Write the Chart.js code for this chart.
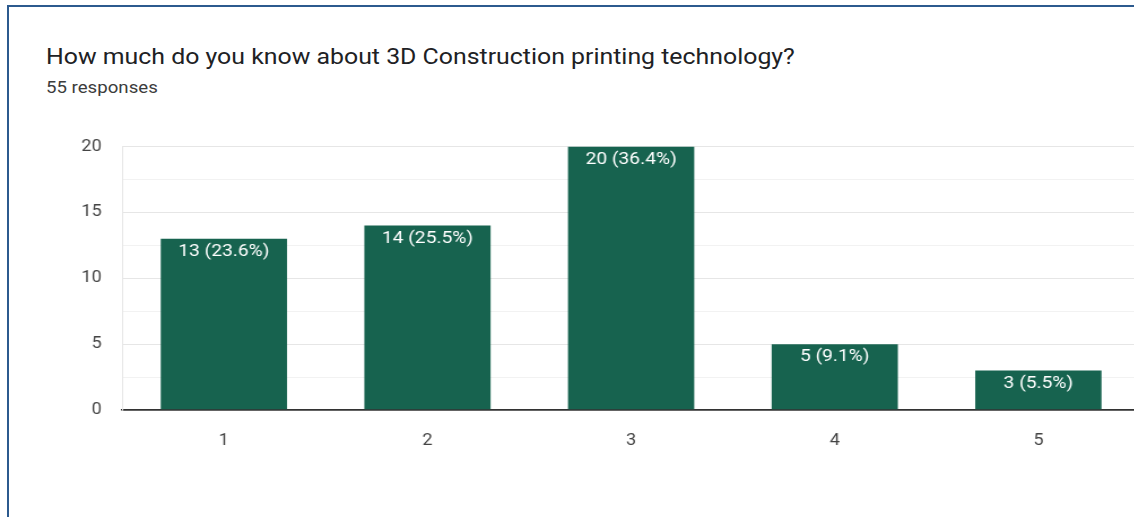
<!DOCTYPE html>
<html lang="en">
<head>
<meta charset="UTF-8">
<title>3D Construction printing survey</title>
<script src="https://cdn.jsdelivr.net/npm/chart.js"></script>
<style>
  html, body { margin: 0; padding: 0; background: #fff; overflow: hidden; }
  body { width: 1134px; height: 517px; position: relative; font-family: Roboto, Arial, sans-serif; }
  .card {
    position: absolute; left: 7px; top: 5px; width: 1200px; height: 600px;
    border-left: 2px solid #2c5a8e; border-top: 2px solid #2c5a8e;
  }
  /* the survey export is slightly wider than tall, so text and chart get a horizontal stretch */
  .wide { transform: scaleX(1.13); transform-origin: 0 0; }
  .title { position: absolute; left: 46px; top: 44px; font-size: 22px; color: #202124; white-space: nowrap; }
  .sub { position: absolute; left: 46px; top: 78px; font-size: 16.5px; color: #3c3c3c; white-space: nowrap; }
  #wrap { position: absolute; left: 0; top: 119px; width: 1018px; height: 398px; }
</style>
</head>
<body>
<div class="card"></div>
<div class="title wide">How much do you know about 3D Construction printing technology?</div>
<div class="sub wide">55 responses</div>
<div id="wrap" class="wide"><canvas id="chart"></canvas></div>
<script>
  const categories = ['1', '2', '3', '4', '5'];
  const counts = [13, 14, 20, 5, 3];
  const percents = ['23.6%', '25.5%', '36.4%', '9.1%', '5.5%'];
  const yTicks = [0, 5, 10, 15, 20];

  const FONT = 'Roboto, Arial, sans-serif';

  // white "n (p%)" label just inside the top of each bar
  const barLabels = {
    id: 'barLabels',
    afterDatasetsDraw(chart) {
      const ctx = chart.ctx;
      const meta = chart.getDatasetMeta(0);
      ctx.save();
      ctx.fillStyle = '#ffffff';
      ctx.font = '17px ' + FONT;
      ctx.textAlign = 'center';
      ctx.textBaseline = 'middle';
      meta.data.forEach((bar, i) => {
        ctx.fillText(counts[i] + ' (' + percents[i] + ')', bar.x, bar.y + 13);
      });
      ctx.restore();
    }
  };

  new Chart(document.getElementById('chart'), {
    type: 'bar',
    data: {
      labels: categories,
      datasets: [{
        data: counts,
        backgroundColor: '#17634f',
        borderWidth: 0,
        barPercentage: 0.62,
        categoryPercentage: 1
      }]
    },
    options: {
      responsive: true,
      maintainAspectRatio: false,
      animation: false,
      events: [],
      layout: { padding: { top: 4, right: 9, left: 0, bottom: 0 } },
      plugins: { legend: { display: false }, tooltip: { enabled: false } },
      scales: {
        x: {
          grid: { display: false },
          border: { color: '#333333', width: 1.5 },
          ticks: { color: '#444', font: { size: 16, family: FONT }, padding: 13 },
          afterFit(scale) { scale.height = 107; }
        },
        y: {
          min: 0,
          max: 20,
          ticks: {
            stepSize: 2.5,
            padding: 18,
            color: '#444',
            font: { size: 16, family: FONT },
            callback: (v) => yTicks.includes(v) ? String(v) : ''
          },
          grid: {
            drawTicks: false,
            color: (c) => c.tick.value === 0 ? '#333333' : (c.tick.value % 5 === 0 ? '#e6e6e6' : '#f2f2f2'),
            lineWidth: (c) => c.tick.value === 0 ? 1.5 : 1
          },
          border: { color: '#e6e6e6' },
          afterFit(scale) { scale.width = 108; }
        }
      }
    },
    plugins: [barLabels]
  });
</script>
</body>
</html>
